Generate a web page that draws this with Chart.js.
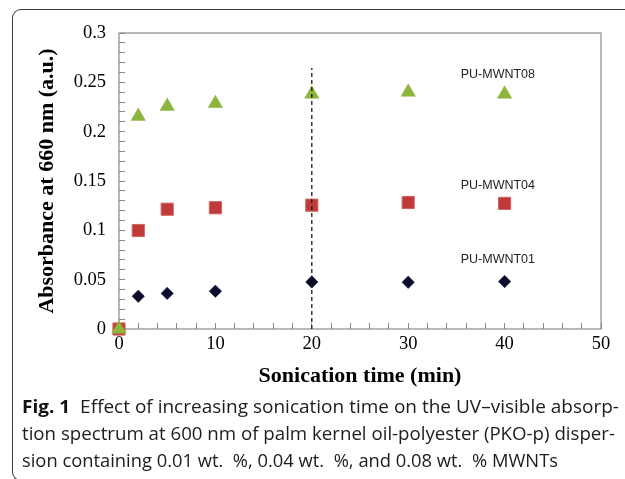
<!DOCTYPE html>
<html><head><meta charset="utf-8">
<script src="https://cdn.jsdelivr.net/npm/chart.js@4.4.1/dist/chart.umd.min.js"></script>
<style>
html,body{margin:0;padding:0;background:#fff;width:625px;height:479px;overflow:hidden;}
#frame{position:absolute;left:12px;top:8.5px;width:700px;height:472.5px;border-top:1.3px solid #3a3a3a;border-left:1.3px solid #3a3a3a;border-bottom:1.3px solid #3a3a3a;border-radius:9px 0 0 9px;box-sizing:border-box;}
#wrap{position:absolute;left:0;top:0;width:625px;height:400px;}
.cap{position:absolute;left:21.7px;white-space:nowrap;font-family:"Open Sans";font-size:18px;line-height:18px;color:#1e1c1d;transform-origin:0 0;}
.cap b{font-weight:700;color:#111;}
</style></head>
<body>
<div id="frame"></div>
<div id="wrap"><canvas id="c" width="625" height="400"></canvas></div>
<div class="cap" id="l1"><b>Fig. 1</b>&nbsp;&nbsp;Effect of increasing sonication time on the UV–visible absorp-</div>
<div class="cap" id="l2">tion spectrum at 600 nm of palm kernel oil-polyester (PKO-p) disper-</div>
<div class="cap" id="l3">sion containing 0.01 wt.&nbsp; %, 0.04 wt.&nbsp; %, and 0.08 wt.&nbsp; % MWNTs</div>
<script>
// ---- data ----
const sonicationTime = [0, 2, 5, 10, 20, 30, 40];
const mwnt01 = [0, 0.0332, 0.0361, 0.0383, 0.0477, 0.0474, 0.0481];
const mwnt04 = [0, 0.0998, 0.1214, 0.1229, 0.1255, 0.1282, 0.1273];
const mwnt08 = [0, 0.2156, 0.2257, 0.2286, 0.2382, 0.2401, 0.2381];
const seriesNames = ['PU-MWNT01', 'PU-MWNT04', 'PU-MWNT08'];
const seriesLabelX = [39.3, 39.3, 39.3];
const seriesLabelY = [0.0702, 0.1452, 0.2577];
const markerLineX = [20, 20];
const markerLineY = [0, 0.2645];
const xTickLabels = ['0', '10', '20', '30', '40', '50'];
const yTickLabels = ['0', '0.05', '0.1', '0.15', '0.2', '0.25', '0.3'];

const pts = (xs, ys) => xs.map((x, i) => ({x: x, y: ys[i]}));

const framePlugin = {
  id: 'frameAndLabels',
  beforeDatasetsDraw(chart) {
    const {ctx, chartArea: a} = chart;
    ctx.save();
    ctx.strokeStyle = '#8a8a8a';
    ctx.lineWidth = 1.2;
    ctx.strokeRect(a.left, a.top, a.right - a.left, a.bottom - a.top);
    ctx.restore();
  },
  afterDatasetsDraw(chart) {
    const {ctx, scales} = chart;
    ctx.save();
    ctx.font = '12.5px "Liberation Sans", Arial, sans-serif';
    ctx.fillStyle = '#222';
    ctx.textAlign = 'center';
    ctx.textBaseline = 'middle';
    seriesNames.forEach((n, i) => {
      ctx.fillText(n, scales.x.getPixelForValue(seriesLabelX[i]), scales.y.getPixelForValue(seriesLabelY[i]));
    });
    ctx.restore();
  }
};

new Chart(document.getElementById('c'), {
  type: 'scatter',
  data: {
    datasets: [
      {data: pts(markerLineX, markerLineY), showLine: true, borderColor: '#1a1a1a', borderWidth: 1.3, borderDash: [4, 3], pointRadius: 0, clip: false},
      {label: seriesNames[2], data: pts(sonicationTime, mwnt08), pointStyle: 'triangle', pointRadius: 8.3, backgroundColor: '#8db53c', borderColor: '#8db53c', borderWidth: 0.5, clip: false},
      {label: seriesNames[1], data: pts(sonicationTime, mwnt04), pointStyle: 'rect', pointRadius: 8.6, backgroundColor: '#bf3a38', borderColor: '#d06460', borderWidth: 1, clip: false},
      {label: seriesNames[0], data: pts(sonicationTime, mwnt01), pointStyle: 'rectRot', pointRadius: 6.2, backgroundColor: '#0b0b2b', borderColor: '#0b0b2b', borderWidth: 0.5, clip: false}
    ]
  },
  options: {
    responsive: false,
    animation: false,
    devicePixelRatio: 1,
    layout: {padding: {left: 0, top: 33, right: 24, bottom: 0}},
    plugins: {legend: {display: false}, tooltip: {enabled: false}},
    scales: {
      x: {
        type: 'linear', min: 0, max: 50,
        afterFit(s) { s.height = 71; },
        border: {display: false},
        grid: {drawOnChartArea: false, drawTicks: true, tickLength: -6, color: '#8a8a8a', tickColor: '#8a8a8a', lineWidth: 1},
        ticks: {
          stepSize: 2, autoSkip: false, maxTicksLimit: 100, maxRotation: 0, padding: 10.2,
          font: {family: '"Liberation Serif", serif', size: 18.5}, color: '#000',
          callback: v => (Math.abs(v / 10 - Math.round(v / 10)) < 1e-6 ? xTickLabels[Math.round(v / 10)] : '')
        },
        title: {display: true, text: 'Sonication time (min)', color: '#000',
          font: {family: '"Liberation Serif", serif', size: 22, weight: 'bold'}, padding: {top: 0, bottom: 10.8}}
      },
      y: {
        type: 'linear', min: 0, max: 0.3,
        afterFit(s) { s.width = 119; },
        border: {display: false},
        grid: {drawOnChartArea: false, drawTicks: true, tickLength: -6, color: '#8a8a8a', tickColor: '#8a8a8a', lineWidth: 1},
        ticks: {
          stepSize: 0.01, autoSkip: false, maxTicksLimit: 100, padding: 19,
          font: {family: '"Liberation Serif", serif', size: 18.5}, color: '#000',
          callback: v => {
            const k = Math.round(v / 0.05);
            return Math.abs(v - k * 0.05) < 1e-6 ? yTickLabels[k] : '';
          }
        },
        title: {display: true, text: 'Absorbance at 660 nm (a.u.)', color: '#000',
          font: {family: '"Liberation Serif", serif', size: 22, weight: 'bold'}, padding: {top: 33.8, bottom: 0}}
      }
    }
  },
  plugins: [framePlugin]
});

// ---- caption fitting ----
const capLayout = [['l1', 413.3, 597], ['l2', 440, 593], ['l3', 466.7, 536]];
function fitCaption() {
  capLayout.forEach(([id, baseline, w]) => {
    const el = document.getElementById(id);
    el.style.transform = 'none';
    el.style.top = (baseline - 0.888 * 18) + 'px';
    const nat = el.getBoundingClientRect().width;
    el.style.transform = 'scaleX(' + (w / nat) + ')';
  });
}
fitCaption();
if (document.fonts && document.fonts.ready) document.fonts.ready.then(fitCaption);
</script>
</body></html>
